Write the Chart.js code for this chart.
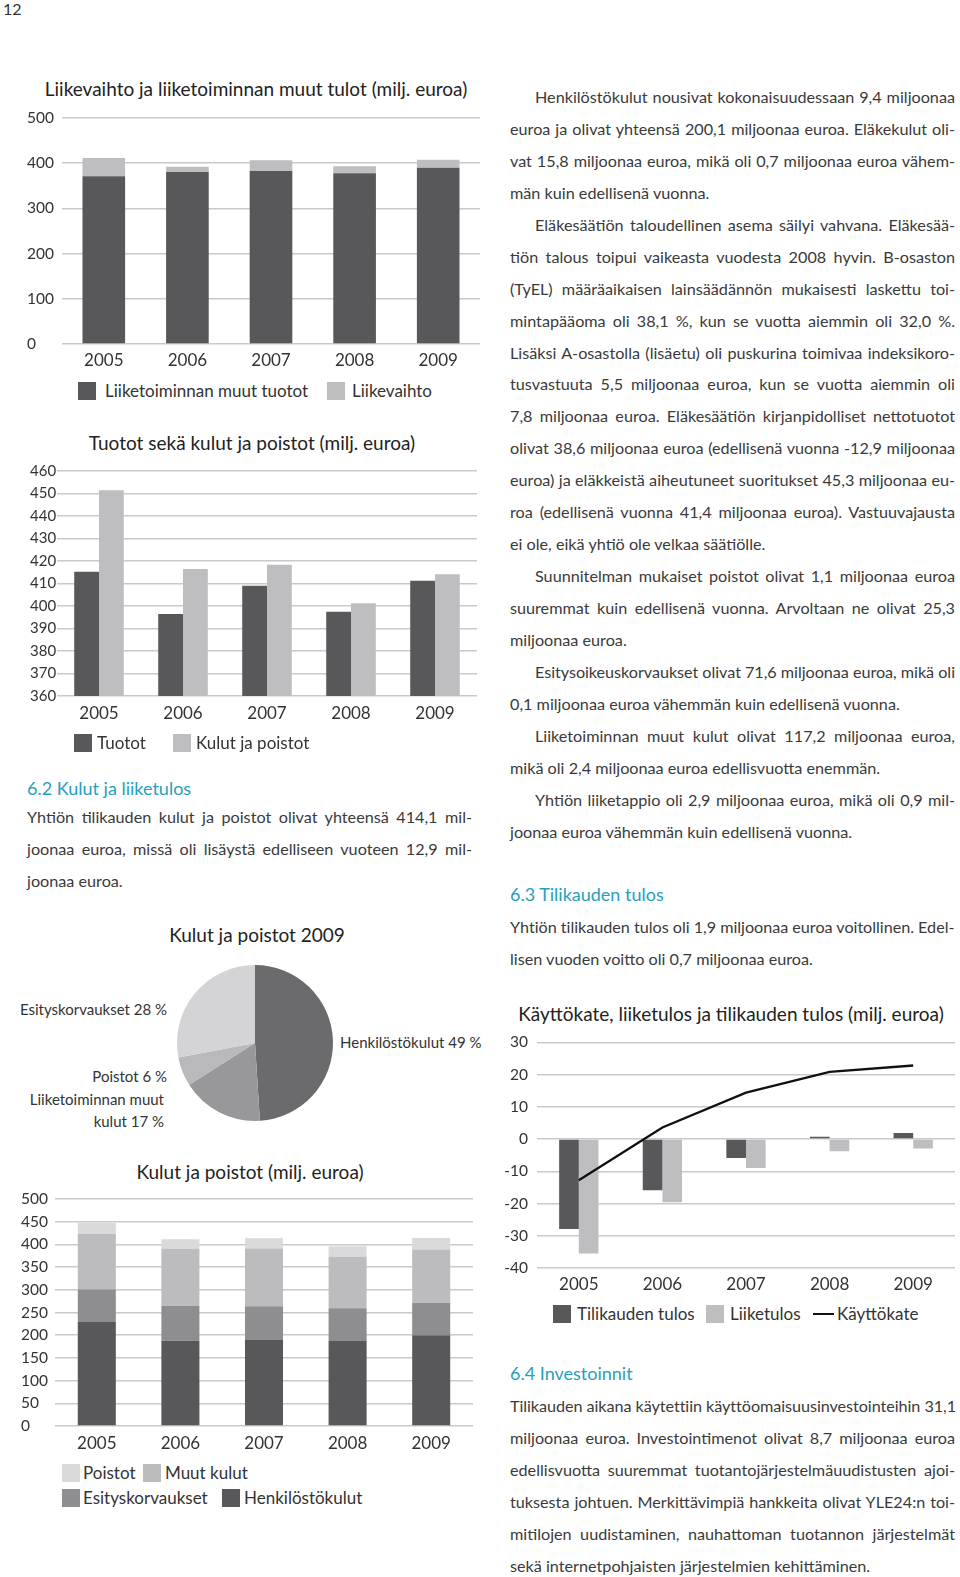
<!DOCTYPE html>
<html lang="fi">
<head>
<meta charset="UTF-8">
<title>6.2 Kulut ja liiketulos</title>
<script src="https://cdn.jsdelivr.net/npm/chart.js@4.4.1/dist/chart.umd.min.js"></script>
<style>
  html, body { margin: 0; padding: 0; background: #fff; }
  #page { position: relative; width: 960px; height: 1577px; overflow: hidden; font-family: Lato, "Noto Sans", sans-serif; color: #333; }
  canvas { position: absolute; }
  .title { position: absolute; width: 500px; text-align: center; font-size: 19px; line-height: 22px; color: #222; white-space: nowrap; }
  .col { position: absolute; width: 445px; font-size: 16.2px; line-height: 31.95px; font-weight: 400; color: #3a3a3a; }
  .col div { white-space: nowrap; height: 31.95px; }
  .col .ind { text-indent: 25px; }
  .h { color: #27a0be; font-weight: 400; font-size: 18px; }
  .lg { position: absolute; font-size: 17px; line-height: 20px; white-space: nowrap; color: #333; }
  .sw { position: absolute; }
  .pl { position: absolute; font-size: 15px; line-height: 22px; color: #333; }
</style>
</head>
<body>
<div id="page">
  <div class="pl" style="left:3px; top:-2px; font-size:16px;">12</div>

  <div class="title" style="left:6px; top:78px;">Liikevaihto ja liiketoiminnan muut tulot (milj. euroa)</div>
  <canvas id="c1" width="458" height="280" style="left:27px; top:100px;"></canvas>

  <div class="title" style="left:2px; top:432px;">Tuotot sekä kulut ja poistot (milj. euroa)</div>
  <canvas id="c2" width="452" height="283" style="left:30px; top:452px;"></canvas>

  <div class="col h" style="left:27px; top:773px;">6.2 Kulut ja liiketulos</div>
  <div class="col" style="left:27px; top:801px;">
    <div class="j"><span>Yhtiön tilikauden kulut ja poistot olivat yhteensä 414,1 mil-</span></div>
    <div class="j"><span>joonaa euroa, missä oli lisäystä edelliseen vuoteen 12,9 mil-</span></div>
    <div><span>joonaa euroa.</span></div>
  </div>

  <div class="title" style="left:7px; top:924px;">Kulut ja poistot 2009</div>
  <canvas id="c3" width="170" height="170" style="left:170px; top:958px;"></canvas>
  <div id="pieLabels"></div>

  <div class="title" style="left:0px; top:1161px;">Kulut ja poistot (milj. euroa)</div>
  <canvas id="c4" width="457" height="279" style="left:21px; top:1181px;"></canvas>

  <div class="title" style="left:481px; top:1003px;">Käyttökate, liiketulos ja tilikauden tulos (milj. euroa)</div>
  <canvas id="c5" width="468" height="271" style="left:490px; top:1024px;"></canvas>

  <div id="legends"></div>

  <div class="col" style="left:510px; top:81px;">
    <div class="j ind"><span>Henkilöstökulut nousivat kokonaisuudessaan 9,4 miljoonaa</span></div>
    <div class="j"><span>euroa ja olivat yhteensä 200,1 miljoonaa euroa. Eläkekulut oli-</span></div>
    <div class="j"><span>vat 15,8 miljoonaa euroa, mikä oli 0,7 miljoonaa euroa vähem-</span></div>
    <div><span>män kuin edellisenä vuonna.</span></div>
    <div class="j ind"><span>Eläkesäätiön taloudellinen asema säilyi vahvana. Eläkesää-</span></div>
    <div class="j"><span>tiön talous toipui vaikeasta vuodesta 2008 hyvin. B-osaston</span></div>
    <div class="j"><span>(TyEL) määräaikaisen lainsäädännön mukaisesti laskettu toi-</span></div>
    <div class="j"><span>mintapääoma oli 38,1 %, kun se vuotta aiemmin oli 32,0 %.</span></div>
    <div class="j"><span>Lisäksi A-osastolla (lisäetu) oli puskurina toimivaa indeksikoro-</span></div>
    <div class="j"><span>tusvastuuta 5,5 miljoonaa euroa, kun se vuotta aiemmin oli</span></div>
    <div class="j"><span>7,8 miljoonaa euroa. Eläkesäätiön kirjanpidolliset nettotuotot</span></div>
    <div class="j"><span>olivat 38,6 miljoonaa euroa (edellisenä vuonna -12,9 miljoonaa</span></div>
    <div class="j"><span>euroa) ja eläkkeistä aiheutuneet suoritukset 45,3 miljoonaa eu-</span></div>
    <div class="j"><span>roa (edellisenä vuonna 41,4 miljoonaa euroa). Vastuuvajausta</span></div>
    <div><span>ei ole, eikä yhtiö ole velkaa säätiölle.</span></div>
    <div class="j ind"><span>Suunnitelman mukaiset poistot olivat 1,1 miljoonaa euroa</span></div>
    <div class="j"><span>suuremmat kuin edellisenä vuonna. Arvoltaan ne olivat 25,3</span></div>
    <div><span>miljoonaa euroa.</span></div>
    <div class="j ind"><span>Esitysoikeuskorvaukset olivat 71,6 miljoonaa euroa, mikä oli</span></div>
    <div><span>0,1 miljoonaa euroa vähemmän kuin edellisenä vuonna.</span></div>
    <div class="j ind"><span>Liiketoiminnan muut kulut olivat 117,2 miljoonaa euroa,</span></div>
    <div><span>mikä oli 2,4 miljoonaa euroa edellisvuotta enemmän.</span></div>
    <div class="j ind"><span>Yhtiön liiketappio oli 2,9 miljoonaa euroa, mikä oli 0,9 mil-</span></div>
    <div><span>joonaa euroa vähemmän kuin edellisenä vuonna.</span></div>
    <div></div>
    <div class="h"><span>6.3 Tilikauden tulos</span></div>
    <div class="j"><span>Yhtiön tilikauden tulos oli 1,9 miljoonaa euroa voitollinen. Edel-</span></div>
    <div><span>lisen vuoden voitto oli 0,7 miljoonaa euroa.</span></div>
  </div>

  <div class="col" style="left:510px; top:1358px;">
    <div class="h"><span>6.4 Investoinnit</span></div>
    <div class="j"><span>Tilikauden aikana käytettiin käyttöomaisuusinvestointeihin 31,1</span></div>
    <div class="j"><span>miljoonaa euroa. Investointimenot olivat 8,7 miljoonaa euroa</span></div>
    <div class="j"><span>edellisvuotta suuremmat tuotantojärjestelmäuudistusten ajoi-</span></div>
    <div class="j"><span>tuksesta johtuen. Merkittävimpiä hankkeita olivat YLE24:n toi-</span></div>
    <div class="j"><span>mitilojen uudistaminen, nauhattoman tuotannon järjestelmät</span></div>
    <div><span>sekä internetpohjaisten järjestelmien kehittäminen.</span></div>
  </div>
</div>

<script>
// --- data ---
const years = ['2005', '2006', '2007', '2008', '2009'];

// Liikevaihto ja liiketoiminnan muut tulot
const labels1 = ['Liiketoiminnan muut tuotot', 'Liikevaihto'];
const muutTuotot = [371, 380.5, 382.7, 377.6, 390];
const liikevaihto = [40.5, 11.8, 23.6, 15.5, 17.8];

// Tuotot sekä kulut ja poistot
const labels2 = ['Tuotot', 'Kulut ja poistot'];
const tuotot = [415.2, 396.5, 409, 397.4, 411.2];
const kulutJaPoistot = [451.4, 416.4, 418.3, 401.2, 414.1];

// Kulut ja poistot 2009 (pie)
const pieLabels = ['Henkilöstökulut', 'Liiketoiminnan muut kulut', 'Poistot', 'Esityskorvaukset'];
const pieShares = [49, 17, 6, 28];

// Kulut ja poistot (stacked)
const labels4 = ['Henkilöstökulut', 'Esityskorvaukset', 'Muut kulut', 'Poistot'];
const henkilosto = [229, 187.8, 190.7, 188.5, 200.1];
const esitys = [71.4, 77.3, 72.9, 70.7, 71.6];
const muutKulut = [123, 125.2, 127.4, 113.4, 117.2];
const poistot = [23.6, 21.3, 22.8, 23.6, 25.3];

// Käyttökate, liiketulos ja tilikauden tulos
const labels5 = ['Tilikauden tulos', 'Liiketulos', 'Käyttökate'];
const tilikaudenTulos = [-27.9, -15.9, -5.9, 0.7, 1.9];
const liiketulos = [-35.5, -19.6, -9.0, -3.8, -2.9];
const kayttokate = [-12.8, 3.6, 14.4, 20.8, 22.8];

// --- styles ---
const ink = '#333';
const gridColor = '#c9c9cb';
const dark = '#58585b';
const light = '#bebec0';
const stackColors = ['#58585b', '#8e8e91', '#bcbcbe', '#dadadc'];
const pieColors = ['#6b6b6e', '#98989b', '#b9b9bc', '#d4d4d6'];

Chart.defaults.font.family = 'Lato, "Noto Sans", sans-serif';
Chart.defaults.color = ink;

function barOptions(o) {
  return {
    responsive: false,
    animation: false,
    events: [],
    layout: { padding: { top: o.pt, right: o.pr, left: 0, bottom: 0 } },
    plugins: { legend: { display: false }, tooltip: { enabled: false } },
    scales: {
      x: {
        stacked: o.stacked,
        grid: { display: false, drawTicks: false },
        border: { display: false },
        ticks: { font: { size: 17 }, padding: o.xp, maxRotation: 0 },
        afterFit: function (s) { s.height = o.xh; }
      },
      y: {
        stacked: o.stacked,
        min: o.min, max: o.max,
        grid: { color: gridColor, lineWidth: 1.5, drawTicks: false },
        border: { display: false },
        ticks: { stepSize: o.step, font: { size: o.yf || 15.5 }, padding: o.yp, crossAlign: o.align },
        afterFit: function (s) { s.width = o.yw; }
      }
    }
  };
}

new Chart(document.getElementById('c1'), {
  type: 'bar',
  data: {
    labels: years,
    datasets: [
      { label: labels1[0], data: muutTuotot, backgroundColor: dark, barPercentage: 0.51, categoryPercentage: 1 },
      { label: labels1[1], data: liikevaihto, backgroundColor: light, barPercentage: 0.51, categoryPercentage: 1 }
    ]
  },
  options: barOptions({ pt: 18, pr: 5, xh: 36, xp: 6, yw: 35, yp: 0, align: 'far', stacked: true, min: 0, max: 500, step: 100 })
});

new Chart(document.getElementById('c2'), {
  type: 'bar',
  data: {
    labels: years,
    datasets: [
      { label: labels2[0], data: tuotot, backgroundColor: dark, barPercentage: 1, categoryPercentage: 0.59 },
      { label: labels2[1], data: kulutJaPoistot, backgroundColor: light, barPercentage: 1, categoryPercentage: 0.59 }
    ]
  },
  options: barOptions({ pt: 19, pr: 5, xh: 39, xp: 7, yw: 27, yp: 0, yf: 15, align: 'far', stacked: false, min: 360, max: 460, step: 10 })
});

new Chart(document.getElementById('c3'), {
  type: 'pie',
  data: {
    labels: pieLabels,
    datasets: [{ data: pieShares, backgroundColor: pieColors, borderWidth: 0 }]
  },
  options: {
    responsive: false,
    animation: false,
    events: [],
    layout: { padding: 7 },
    plugins: { legend: { display: false }, tooltip: { enabled: false } }
  }
});

new Chart(document.getElementById('c4'), {
  type: 'bar',
  data: {
    labels: years,
    datasets: [henkilosto, esitys, muutKulut, poistot].map(function (d, i) {
      return { label: labels4[i], data: d, backgroundColor: stackColors[i], barPercentage: 0.455, categoryPercentage: 1 };
    })
  },
  options: barOptions({ pt: 18, pr: 5, xh: 34, xp: 7, yw: 34, yp: 0, align: 'far', stacked: true, min: 0, max: 500, step: 50 })
});

new Chart(document.getElementById('c5'), {
  type: 'bar',
  data: {
    labels: years,
    datasets: [
      { type: 'line', label: labels5[2], data: kayttokate, borderColor: '#111', borderWidth: 2.3, pointRadius: 0, tension: 0, order: 0 },
      { label: labels5[0], data: tilikaudenTulos, backgroundColor: dark, barPercentage: 1, categoryPercentage: 0.47, order: 1 },
      { label: labels5[1], data: liiketulos, backgroundColor: light, barPercentage: 1, categoryPercentage: 0.47, order: 1 }
    ]
  },
  options: barOptions({ pt: 18, pr: 3, xh: 27, xp: 6, yw: 47, yp: 9, align: 'near', stacked: false, min: -40, max: 30, step: 10 })
});

// --- HTML legends ---
const legendItems = [
  { label: labels1[0], color: dark, box: 78, text: 105, y: 391 },
  { label: labels1[1], color: light, box: 327, text: 352, y: 391 },
  { label: labels2[0], color: dark, box: 74, text: 97, y: 743 },
  { label: labels2[1], color: light, box: 173, text: 196, y: 743 },
  { label: labels4[3], color: stackColors[3], box: 62, text: 83, y: 1473 },
  { label: labels4[2], color: stackColors[2], box: 143, text: 165, y: 1473 },
  { label: labels4[1], color: stackColors[1], box: 62, text: 83, y: 1498 },
  { label: labels4[0], color: stackColors[0], box: 222, text: 244, y: 1498 },
  { label: labels5[0], color: dark, box: 553, text: 577, y: 1314 },
  { label: labels5[1], color: light, box: 706, text: 730, y: 1314 },
  { label: labels5[2], color: '#111', box: 813, text: 837, y: 1314, line: true }
];
const legendBox = document.getElementById('legends');
legendItems.forEach(function (it) {
  const sw = document.createElement('div');
  sw.className = 'sw';
  sw.style.background = it.color;
  if (it.line) {
    sw.style.cssText += 'left:' + it.box + 'px; top:' + (it.y - 1.2) + 'px; width:21px; height:2.4px;';
  } else {
    sw.style.cssText += 'left:' + it.box + 'px; top:' + (it.y - 9) + 'px; width:18px; height:18px;';
  }
  legendBox.appendChild(sw);
  const t = document.createElement('div');
  t.className = 'lg';
  t.textContent = it.label;
  t.style.left = it.text + 'px';
  t.style.top = (it.y - 10) + 'px';
  legendBox.appendChild(t);
});

// --- pie labels ---
const pieLabelPos = [
  { left: 340, y: 1042 },
  { right: 164, y: 1099, width: 140 },
  { right: 167, y: 1076 },
  { right: 167, y: 1009 }
];
const pieBox = document.getElementById('pieLabels');
pieLabels.forEach(function (name, i) {
  const p = pieLabelPos[i];
  const el = document.createElement('div');
  el.className = 'pl';
  el.textContent = name + ' ' + pieShares[i] + ' %';
  if (p.left !== undefined) {
    el.style.left = p.left + 'px';
    el.style.whiteSpace = 'nowrap';
  } else {
    const w = p.width || 200;
    el.style.left = (p.right - w) + 'px';
    el.style.width = w + 'px';
    el.style.textAlign = 'right';
    if (!p.width) el.style.whiteSpace = 'nowrap';
  }
  el.style.top = (p.y - 11) + 'px';
  pieBox.appendChild(el);
});

// --- justify the text lines to the column width ---
function justifyLines() {
  document.querySelectorAll('.col div.j').forEach(function (line) {
    const span = line.firstElementChild;
    span.style.wordSpacing = '0px';
    span.style.letterSpacing = '0px';
    const indent = parseFloat(getComputedStyle(line).textIndent) || 0;
    const free = line.clientWidth - indent - span.getBoundingClientRect().width;
    const gaps = (span.textContent.match(/ /g) || []).length;
    if (free >= 0) {
      if (gaps) span.style.wordSpacing = (free / gaps) + 'px';
    } else {
      // line is a little too long for this font: tighten the letters instead
      span.style.letterSpacing = (free / span.textContent.length) + 'px';
    }
  });
}
justifyLines();
if (document.fonts) document.fonts.ready.then(justifyLines);
</script>
</body>
</html>
